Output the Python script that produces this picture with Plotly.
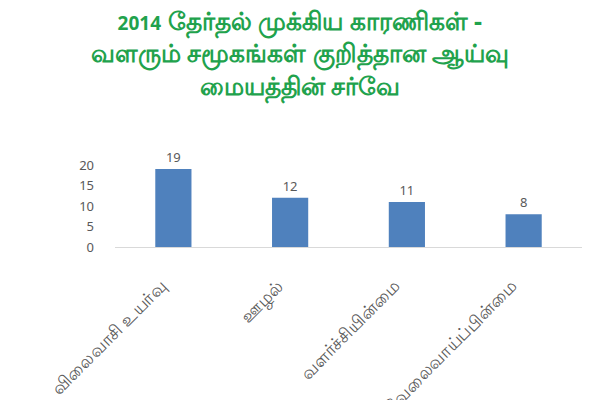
import plotly.graph_objs as go

# Survey data
categories = ["விலைவாசி உயர்வு", "ஊழல்", "வளர்ச்சியின்மை", "வேலைவாய்ப்பின்மை"]
values = [19, 12, 11, 8]
y_ticks = [0, 5, 10, 15, 20]

title_text = ("<span style='font-size:19px'>2014</span> தேர்தல் முக்கிய காரணிகள் -<br>"
              "வளரும் சமூகங்கள் குறித்தான ஆய்வு<br>"
              "மையத்தின் சர்வே")


def create_graph():
    fig = go.Figure()

    fig.add_trace(
        go.Bar(
            x=categories,
            y=values,
            text=values,
            textposition="outside",
            textfont=dict(size=13, color="#595959"),
            marker=dict(color="#4F81BD", line=dict(width=0)),
            width=0.31,
            cliponaxis=False,
            showlegend=False,
        )
    )

    # page has an 8px body margin, so the figure is sized to fit the window
    fig.update_layout(
        width=592,
        height=392,
        margin=dict(l=107, r=18, t=157, b=153),
        paper_bgcolor="white",
        plot_bgcolor="white",
        title=dict(
            text="<b>" + title_text + "</b>",
            x=0.493,
            xanchor="center",
            y=0.944,
            yanchor="top",
            font=dict(size=25, color="#21A24C", family="Noto Sans, sans-serif"),
        ),
        font=dict(family="Noto Sans, sans-serif", color="#595959"),
    )

    fig.update_xaxes(
        tickangle=-45,
        tickfont=dict(size=17.5, color="#595959"),
        showline=True,
        linecolor="#D9D9D9",
        linewidth=1,
        ticks="",
        showgrid=False,
        automargin=False,
        ticklabelshift=-12,
        ticklabelstandoff=21,
    )

    fig.update_yaxes(
        range=[0, 20],
        tickvals=y_ticks,
        tickfont=dict(size=13, color="#595959"),
        showgrid=False,
        zeroline=False,
        showline=False,
        ticks="",
        ticklabelstandoff=20,
        automargin=False,
    )

    fig.write_html("out.html")


if __name__ == "__main__":
    create_graph()
